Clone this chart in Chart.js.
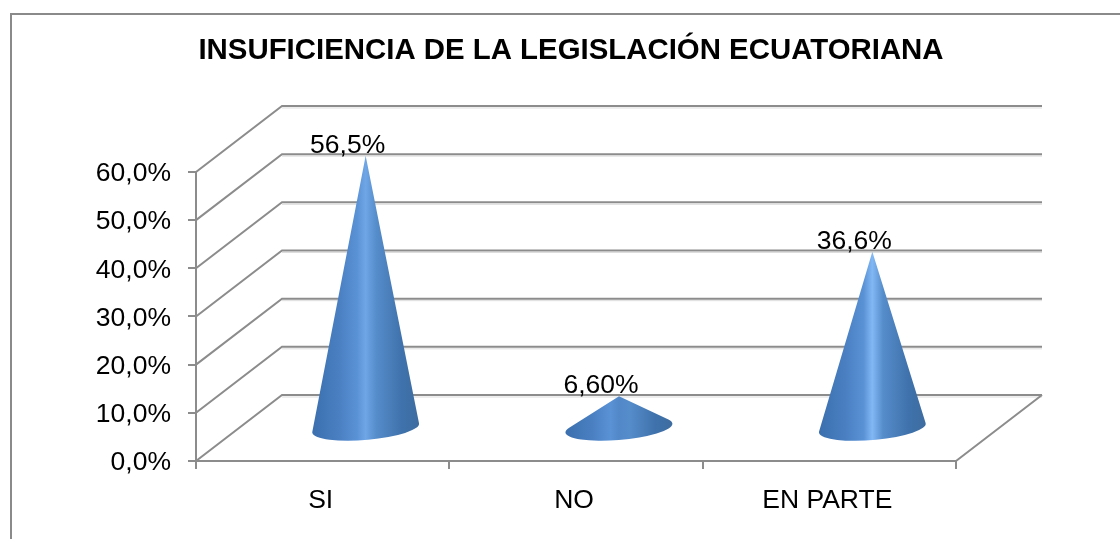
<!DOCTYPE html>
<html lang="es">
<head>
<meta charset="utf-8">
<title>Insuficiencia de la legislación ecuatoriana</title>
<script src="https://cdn.jsdelivr.net/npm/chart.js@4/dist/chart.umd.min.js"></script>
<style>
    html, body { margin: 0; padding: 0; background: #fff; overflow: hidden; }
    #marco { position: absolute; left: 10px; top: 13px; right: 0; bottom: 0; border-top: 2px solid #8a8a8a; border-left: 2px solid #8a8a8a; }
    #grafico { position: absolute; left: 0; top: 0; }
</style>
</head>
<body>
<div id="marco"></div>
<canvas id="grafico" width="1120" height="539"></canvas>
<script>
// ======== DATOS ========
const categorias = ["SI", "NO", "EN PARTE"];
const valores = [56.5, 6.6, 36.6];
const etiquetasDatos = ["56,5%", "6,60%", "36,6%"];
const etiquetasEje = ["0,0%", "10,0%", "20,0%", "30,0%", "40,0%", "50,0%", "60,0%"];
const titulo = "INSUFICIENCIA DE LA LEGISLACIÓN ECUATORIANA";

// ======== PERSPECTIVA 3D ========
const fondoX = 86;   // desplazamiento de la pared del fondo
const fondoY = -66;
const colorLinea = "#8c8c8c";
const fuente = "'Liberation Sans', Arial, sans-serif";

// el título va centrado en el marco, no en el área que deja el padding
const tituloCentrado = {
    id: "tituloCentrado",
    afterLayout(chart) {
        chart.titleBlock.left = 22;
        chart.titleBlock.right = 1120;
    }
};

// paredes y piso, a partir de los ticks del eje
const paredes3d = {
    id: "paredes3d",
    beforeDatasetsDraw(chart) {
        const { ctx, scales: { x, y } } = chart;
        ctx.save();
        ctx.lineCap = "butt";
        y.ticks.forEach((tick) => {
            const py = y.getPixelForValue(tick.value);
            ctx.strokeStyle = "#dddddd";
            ctx.lineWidth = 1;
            ctx.beginPath();
            ctx.moveTo(x.left + fondoX, py + fondoY + 2);
            ctx.lineTo(x.right + fondoX, py + fondoY + 2);
            ctx.stroke();
            ctx.strokeStyle = colorLinea;
            ctx.lineWidth = 2;
            ctx.beginPath();
            ctx.moveTo(x.left, py);
            ctx.lineTo(x.left + fondoX, py + fondoY);
            ctx.lineTo(x.right + fondoX, py + fondoY);
            ctx.stroke();
        });
        const py0 = y.getPixelForValue(0);
        ctx.beginPath();
        ctx.moveTo(x.right, py0);
        ctx.lineTo(x.right + fondoX, py0 + fondoY);
        ctx.moveTo(x.left, y.top);
        ctx.lineTo(x.left, y.bottom);
        ctx.stroke();
        ctx.restore();
    }
};

// cada barra se dibuja como un cono, centrado en la mitad de la profundidad
const conos3d = {
    id: "conos3d",
    afterDatasetsDraw(chart) {
        const { ctx } = chart;
        chart.getDatasetMeta(0).data.forEach((barra, i) => {
            const { x, y, base, width } = barra.getProps(["x", "y", "base", "width"], true);
            const cx = x + fondoX / 2;
            const cy = base + fondoY / 2 + 1;
            const apiceY = y + fondoY / 2;
            const a = width / 2;
            const b = 12;
            const giro = -0.084;

            // tangentes desde el ápice a la base elíptica
            const dy = apiceY - cy;
            const u = (dy * Math.sin(giro)) / a;
            const v = (dy * Math.cos(giro)) / b;
            const r = Math.hypot(u, v);
            const ang = Math.atan2(v, u);
            const abre = Math.acos(1 / r);

            const grad = ctx.createLinearGradient(cx - a, 0, cx + a, 0);
            grad.addColorStop(0, "#3b6fae");
            grad.addColorStop(0.25, "#4a80c2");
            grad.addColorStop(0.42, "#5a92d6");
            grad.addColorStop(0.5, i === 2 ? "#82b8f4" : i === 0 ? "#6ea6e6" : "#5288c8");
            grad.addColorStop(0.6, "#558cca");
            grad.addColorStop(0.84, "#3f72ac");
            grad.addColorStop(1, "#3d6c9f");

            ctx.save();
            ctx.fillStyle = grad;
            ctx.beginPath();
            ctx.moveTo(cx, apiceY);
            ctx.ellipse(cx, cy, a, b, giro, ang + abre, ang - abre, false);
            ctx.closePath();
            ctx.fill();

            // etiqueta de datos
            ctx.fillStyle = "#000";
            ctx.font = "26.5px " + fuente;
            ctx.textAlign = "center";
            ctx.textBaseline = "alphabetic";
            ctx.fillText(etiquetasDatos[i], cx - 18, apiceY - 3);
            ctx.restore();
        });
    }
};

// ======== GRÁFICO ========
new Chart(document.getElementById("grafico"), {
    type: "bar",
    data: {
        labels: categorias,
        datasets: [{
            data: valores,
            backgroundColor: "rgba(0,0,0,0)",
            barPercentage: 0.423,
            categoryPercentage: 1
        }]
    },
    options: {
        responsive: false,
        animation: false,
        layout: { autoPadding: false, padding: { left: 0, top: 0, right: 164, bottom: 0 } },
        plugins: {
            legend: { display: false },
            tooltip: { enabled: false },
            title: {
                display: true,
                text: titulo,
                color: "#000",
                font: { family: fuente, size: 29.4, weight: "bold" },
                padding: { top: 33.3, bottom: 103.4 }
            }
        },
        scales: {
            x: {
                afterFit(scale) { scale.height = 78; },
                grid: { drawOnChartArea: false, color: colorLinea, lineWidth: 2, tickLength: 8 },
                border: { color: colorLinea, width: 2 },
                ticks: { color: "#000", font: { family: fuente, size: 26.5 }, padding: 15.5, labelOffset: -2, maxRotation: 0 }
            },
            y: {
                min: 0,
                max: 60,
                afterFit(scale) { scale.width = 196; },
                grid: { drawOnChartArea: false, color: colorLinea, lineWidth: 2, tickLength: 8 },
                border: { color: colorLinea, width: 2 },
                ticks: {
                    stepSize: 10,
                    color: "#000",
                    font: { family: fuente, size: 26.5 },
                    padding: 17,
                    labelOffset: 2,
                    callback: (valor, i) => etiquetasEje[i]
                }
            }
        }
    },
    plugins: [tituloCentrado, paredes3d, conos3d]
});
</script>
</body>
</html>
